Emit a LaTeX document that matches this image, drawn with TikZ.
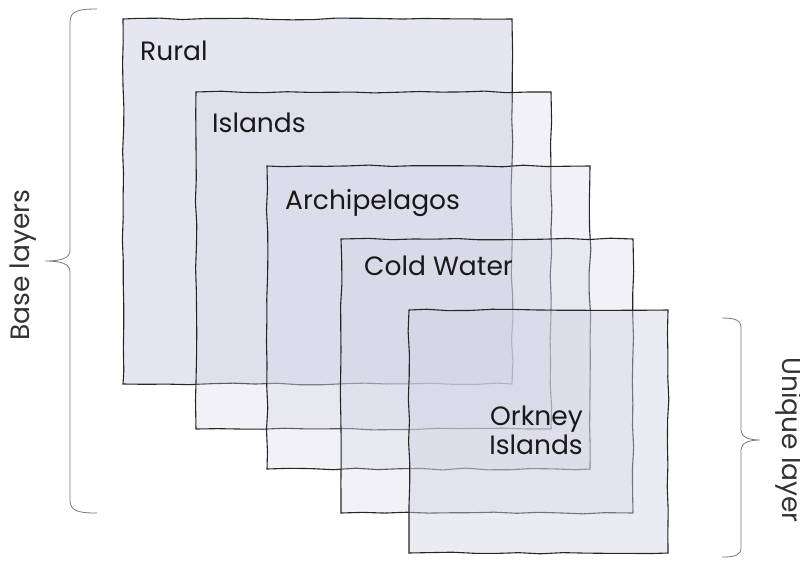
\documentclass[tikz,border=0pt]{standalone}
\usepackage{fontspec}
\setmainfont{Poppins}
\usetikzlibrary{decorations.pathmorphing}

\definecolor{layerfill}{RGB}{210,210,228}
\definecolor{bracegray}{RGB}{120,120,128}

\tikzset{
  layerbox/.style={draw=black!85, line width=1.1pt, fill=layerfill, fill opacity=#1,
    decorate, decoration={random steps, segment length=22pt, amplitude=0.9pt}},
  layerbox/.default=0.3,
  layerlabel/.style={font=\fontsize{26.5}{29}\selectfont, text=black!90, inner sep=0pt},
  sidebrace/.style={draw=bracegray, line width=0.8pt},
  sidelabel/.style={font=\fontsize{26.5}{29}\selectfont, text=black!80, inner sep=0pt},
}

\begin{document}
\begin{tikzpicture}[x=1pt, y=-1pt]
  \useasboundingbox (0,0) rectangle (800,560);
  \pgfmathsetseed{7}

  % stacked layers, the widest one at the bottom
  \path[layerbox=0.55] (123,19) rectangle (512,384);
  \path[layerbox] (196,92) rectangle (551,429);
  \path[layerbox] (267,166) rectangle (590,469);
  \path[layerbox] (341,239) rectangle (633,513);
  \path[layerbox=0.45] (409,310) rectangle (668,553);

  % layer names
  \node[layerlabel, anchor=base west] (rural) at (140,60) {Rural};
  \node[layerlabel, anchor=base west] (islands) at (212,132) {Islands};
  \node[layerlabel, anchor=base west] (archipelagos) at (285,209) {Archipelagos};
  \node[layerlabel, anchor=base west] (coldwater) at (364,275) {Cold Water};
  \node[layerlabel, anchor=south east, align=right] (orkney) at (583,455) {Orkney\\Islands};

  % braces on both sides
  \draw[sidebrace] (97,9) .. controls (78,9) and (70,11) .. (70,22) -- (70,250)
    .. controls (70,258) and (62,261) .. (45,261)
    .. controls (62,261) and (70,264) .. (70,272) -- (70,500)
    .. controls (70,511) and (78,513) .. (97,513);
  \draw[sidebrace] (722,318) .. controls (735,318) and (741,320) .. (741,328) -- (741,430)
    .. controls (741,436) and (747,440) .. (760,440)
    .. controls (747,440) and (741,444) .. (741,450) -- (741,548)
    .. controls (741,555) and (735,557) .. (722,557);

  \node[sidelabel, rotate=90] (base) at (23,265) {Base layers};
  \node[sidelabel, rotate=-90] (unique) at (789,440) {Unique layer};
\end{tikzpicture}
\end{document}
